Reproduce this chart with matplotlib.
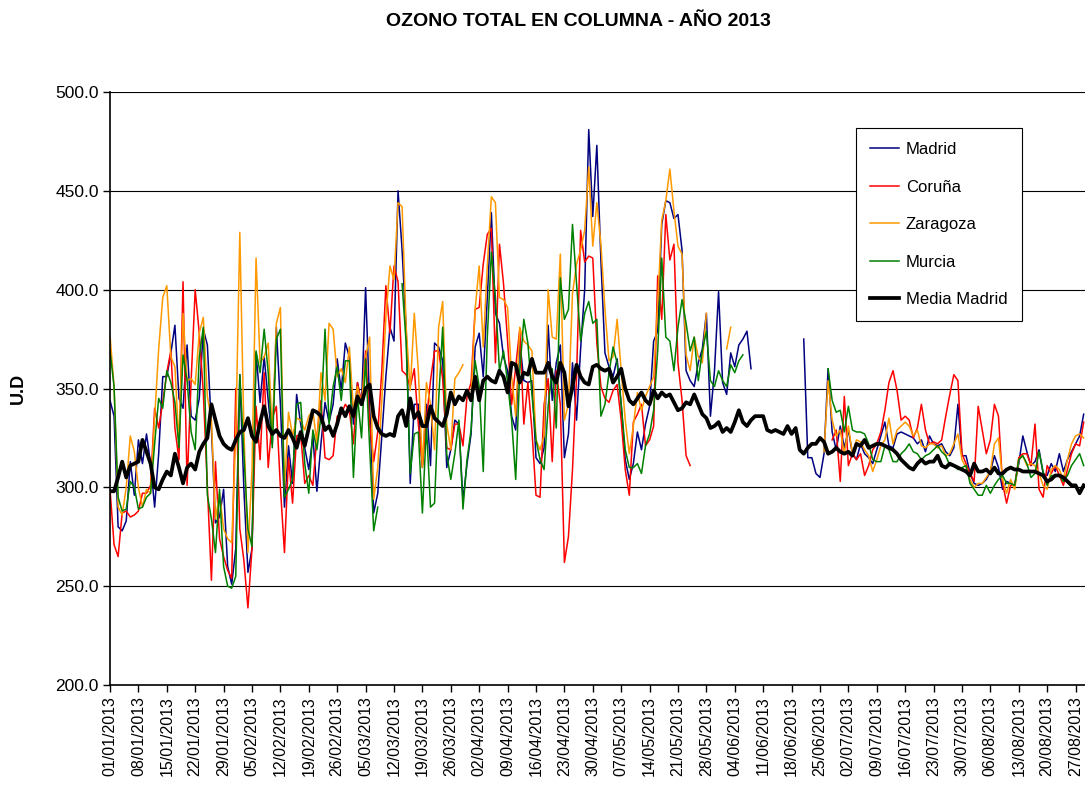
import numpy as np
import matplotlib.pyplot as plt
import datetime as dt

plt.rcParams['font.family'] = ['Liberation Sans', 'DejaVu Sans']

# valores diarios desde 01/01/2013 (None = sin dato)
madrid = [344, 336, 280, 278, 283, 313, 296, 324, 312, 327,
          312, 290, 317, 356, 356, 368, 382, 345, 340, 372,
          336, 334, 345, 380, 372, 330, 282, 285, 299, 260,
          251, 269, 357, 299, 257, 269, 368, 343, 366, 344,
          322, 381, 342, 290, 321, 302, 347, 332, 320, 309,
          326, 298, 322, 343, 333, 342, 365, 349, 373, 366,
          332, 353, 342, 401, 342, 287, 297, 326, 356, 381,
          374, 450, 420, 380, 302, 342, 342, 310, 342, 311,
          373, 371, 364, 310, 319, 334, 332, 293, 312, 327,
          371, 378, 356, 396, 439, 388, 383, 366, 359, 336,
          329, 374, 354, 353, 354, 315, 312, 320, 382, 344,
          363, 372, 315, 327, 363, 334, 370, 400, 481, 437,
          473, 415, 368, 361, 356, 365, 342, 314, 304, 312,
          328, 319, 332, 341, 374, 379, 433, 445, 444, 436,
          438, 420, 359, 354, 351, 363, 370, 388, 336, 359,
          399, 353, 347, 368, 361, 372, 375, 379, 360, None] + [None] * 11 + [
          375, 315, 315, 307, 305, 317, 360, 328, 319,
          331, 320, 329, 317, 314, 322, 317, 315, 312, 319,
          326, 333, 321, 320, 327, 328, 327, 326, 325, 322,
          324, 318, 326, 322, 321, 322, 318, 316, 320, 342,
          316, 316, 307, 302, 301, 302, 304, 308, 316, 310,
          299, 303, 302, 301, 312, 326, 318, 311, 313, 319,
          307, 306, 312, 308, 317, 308, 314, 318, 322, 326,
          337]

coruna = [299, 271, 265, 287, 288, 285, 286, 288, 297, 297,
          301, 340, 330, 343, 358, 369, 330, 314, 404, 301,
          354, 400, 378, 348, 300, 253, 313, 274, 265, 258,
          254, 350, 279, 263, 239, 269, 341, 314, 358, 310,
          335, 341, 300, 267, 315, 292, 326, 327, 302, 306,
          301, 326, 344, 315, 314, 316, 336, 337, 342, 339,
          322, 353, 342, 369, 332, 313, 328, 359, 402, 378,
          412, 404, 359, 357, 351, 360, 332, 311, 334, 354,
          369, 369, 355, 320, 319, 332, 332, 321, 346, 353,
          390, 391, 413, 428, 431, 363, 423, 403, 374, 342,
          361, 380, 332, 353, 329, 296, 295, 342, 355, 313,
          359, 342, 262, 275, 309, 356, 430, 414, 417, 416,
          373, 351, 345, 343, 349, 352, 334, 309, 296, 333,
          337, 342, 321, 324, 331, 407, 385, 438, 415, 423,
          363, 344, 316, 311] + [None] * 34 + [
          324, 329,
          303, 346, 311, 317, 314, 317, 306, 311, 319, 322,
          328, 339, 353, 359, 349, 334, 336, 334, 325, 330,
          342, 329, 322, 323, 322, 324, 336, 347, 357, 354,
          317, 312, 307, 303, 341, 329, 317, 324, 342, 336,
          302, 292, 301, 301, 315, 317, 317, 311, 332, 299,
          295, 311, 307, 311, 306, 301, 309, 317, 322, 321,
          333]

zaragoza = [377, 351, 290, 286, 300, 326, 318, 300, 290, 299,
            297, 335, 370, 396, 402, 366, 361, 322, 388, 354,
            355, 352, 378, 386, 346, 334, 284, 297, 279, 274,
            272, 326, 429, 329, 267, 309, 416, 363, 366, 373,
            326, 383, 391, 299, 338, 326, 335, 334, 329, 336,
            339, 322, 358, 344, 383, 380, 356, 360, 353, 371,
            339, 351, 342, 366, 376, 294, 310, 344, 386, 412,
            405, 444, 442, 381, 349, 388, 359, 310, 353, 342,
            319, 381, 394, 332, 319, 355, 358, 362, None, 344,
            390, 412, 371, 412, 447, 444, 396, 395, 391, 356,
            336, 381, 374, 372, 369, 324, 319, 326, 400, 376,
            375, 418, 334, 342, 398, 413, 420, 430, 462, 422,
            444, 423, 390, 364, 366, 385, 359, 334, 317, 331,
            348, 339, 346, 351, 356, 393, 435, 445, 461, 440,
            422, 418, 367, 359, 376, 366, 363, 388, None, None,
            None, None, 370, 381] + [None] * 22 + [
            318, 354, 334, 326,
            329, 317, 331, 317, 324, 323, 319, 316, 308, 314,
            321, 324, 335, 322, 329, 331, 333, 331, 326, 329,
            321, 320, 322, 322, 320, 321, 316, 317, 322, 327,
            314, 310, 304, 300, 302, 302, 305, 308, 322, 325,
            304, 297, 304, 299, 314, 316, 311, 312, 311, 307,
            301, 299, 309, 311, 309, 304, 314, 322, 326, 327,
            325]

murcia = [369, 351, 295, 288, 289, 303, 300, 289, 290, 295,
          297, 322, 345, 340, 359, 353, 343, 320, 367, 354,
          328, 319, 366, 381, 296, 284, 267, 299, 260, 250,
          249, 255, 357, 317, 279, 270, 369, 358, 380, 358,
          320, 375, 380, 295, 299, 304, 342, 343, 312, 297,
          329, 319, 336, 380, 332, 351, 361, 344, 364, 364,
          305, 346, 325, 365, 320, 278, 290, None, None, None,
          None, None, 403, 373, 307, 327, 328, 287, 331, 290,
          292, 344, 381, 317, 304, 317, 334, 289, 314, 329,
          364, 351, 308, 376, 419, 396, 359, 369, 353, 334,
          304, 359, 385, 373, 347, 324, 314, 309, 341, 360,
          330, 406, 385, 390, 433, 403, 374, 388, 394, 383,
          385, 336, 342, 358, 371, 363, 342, 319, 310, 310,
          312, 307, 321, 327, 339, 369, 416, 376, 374, 359,
          381, 395, 383, 369, 376, 354, 369, 379, 354, 351,
          359, 354, 351, 362, 358, 364, 367] + [None] * 20 + [
          360, 344, 338,
          339, 328, 341, 329, 328, 328, 327, 322, 314, 313,
          313, 321, 319, 313, 313, 317, 319, 322, 318, 317,
          314, 316, 317, 319, 321, 318, 316, 311, 311, 309,
          310, 311, 302, 299, 296, 296, 301, 297, 301, 304,
          306, 302, 302, 301, 314, 316, 312, 305, 307, 318,
          308, 301, 306, 306, 306, 303, 306, 311, 314, 317,
          311]

media = [298, 298, 305, 313, 305, 311, 312, 313, 324, 318,
         312, 300, 299, 304, 308, 306, 317, 310, 302, 310,
         312, 309, 318, 322, 325, 342, 334, 326, 322, 320,
         319, 324, 328, 329, 335, 326, 323, 333, 341, 331,
         327, 329, 326, 325, 329, 325, 320, 328, 321, 330,
         339, 338, 336, 329, 331, 326, 332, 340, 336, 341,
         336, 346, 342, 350, 352, 336, 330, 327, 326, 327,
         326, 336, 339, 331, 345, 335, 338, 331, 331, 341,
         335, 333, 331, 337, 348, 342, 346, 344, 349, 344,
         356, 344, 354, 356, 354, 353, 359, 356, 348, 363,
         362, 353, 358, 357, 365, 358, 358, 358, 363, 356,
         353, 363, 358, 341, 351, 362, 356, 353, 352, 361,
         362, 360, 359, 360, 353, 356, 360, 350, 344, 342,
         345, 348, 344, 342, 349, 345, 348, 346, 347, 343,
         339, 340, 343, 342, 347, 342, 337, 335, 330, 331,
         333, 328, 330, 328, 333, 339, 333, 331, 334, 336,
         336, 336, 329, 328, 329, 328, 327, 331, 327, 330,
         319, 317, 320, 322, 322, 325, 323, 317, 318, 320,
         318, 317, 318, 316, 322, 321, 324, 320, 321, 322,
         322, 321, 320, 319, 317, 314, 312, 310, 309, 312,
         314, 312, 313, 313, 316, 311, 310, 312, 311, 310,
         309, 308, 306, 312, 308, 308, 309, 307, 310, 307,
         307, 309, 310, 309, 309, 308, 308, 308, 308, 307,
         306, 303, 304, 306, 306, 305, 303, 301, 301, 297,
         301]

series = [('Madrid', madrid, '#000080', 1.1),
          ('Coruña', coruna, '#ff0000', 1.1),
          ('Zaragoza', zaragoza, '#ff9900', 1.1),
          ('Murcia', murcia, '#008000', 1.1),
          ('Media Madrid', media, '#000000', 2.7)]


def to_array(v):
    return np.array([np.nan if x is None else x for x in v], dtype=float)


start = dt.date(2013, 1, 1)
tick_days = np.arange(0, 239, 7)
tick_labels = [(start + dt.timedelta(days=int(d))).strftime('%d/%m/%Y') for d in tick_days]

W, H = 1085, 792
fig = plt.figure(figsize=(W / 100, H / 100), dpi=100)
px_day = 4.057
x0, y_top, y_bot = 110, 92, 685
# el eje sigue mas alla del borde derecho, como en el original recortado
ax = fig.add_axes([x0 / W, 1 - y_bot / H, 364 * px_day / W, (y_bot - y_top) / H])

for name, vals, col, lw in series:
    y = to_array(vals)
    ax.plot(np.arange(len(y)), y, color=col, lw=lw, label=name,
            solid_joinstyle='round')

ax.set_xlim(0, 364)
ax.set_ylim(200, 500)
ax.set_yticks(np.arange(200, 501, 50))
ax.set_yticklabels(['%.1f' % v for v in np.arange(200, 501, 50)], fontsize=12.5)
ax.set_xticks(tick_days)
ax.set_xticklabels(tick_labels, rotation=90, fontsize=11.5)
ax.tick_params(direction='out', length=5, width=1, color='black', pad=3)
ax.yaxis.grid(True, color='black', lw=0.8)
ax.set_axisbelow(True)
for s in ['top', 'right']:
    ax.spines[s].set_visible(False)
for s in ['left', 'bottom']:
    ax.spines[s].set_linewidth(1.2)

leg = ax.legend(loc='upper left', bbox_to_anchor=(856 / W, 1 - 128 / H),
                bbox_transform=fig.transFigure, fontsize=12, frameon=True,
                fancybox=False, edgecolor='black', framealpha=1,
                labelspacing=1.35, handlelength=1.7, handletextpad=0.45,
                borderpad=0.85, borderaxespad=0)
leg.get_frame().set_linewidth(0.8)

fig.text(578 / W, 1 - 22 / H, 'OZONO TOTAL EN COLUMNA - AÑO 2013',
         ha='center', va='center', fontsize=14, fontweight='bold')
fig.text(18 / W, 1 - 388 / H, 'U.D', rotation=90, ha='center', va='center',
         fontsize=13, fontweight='bold')

fig.savefig('out.png', dpi=100)
